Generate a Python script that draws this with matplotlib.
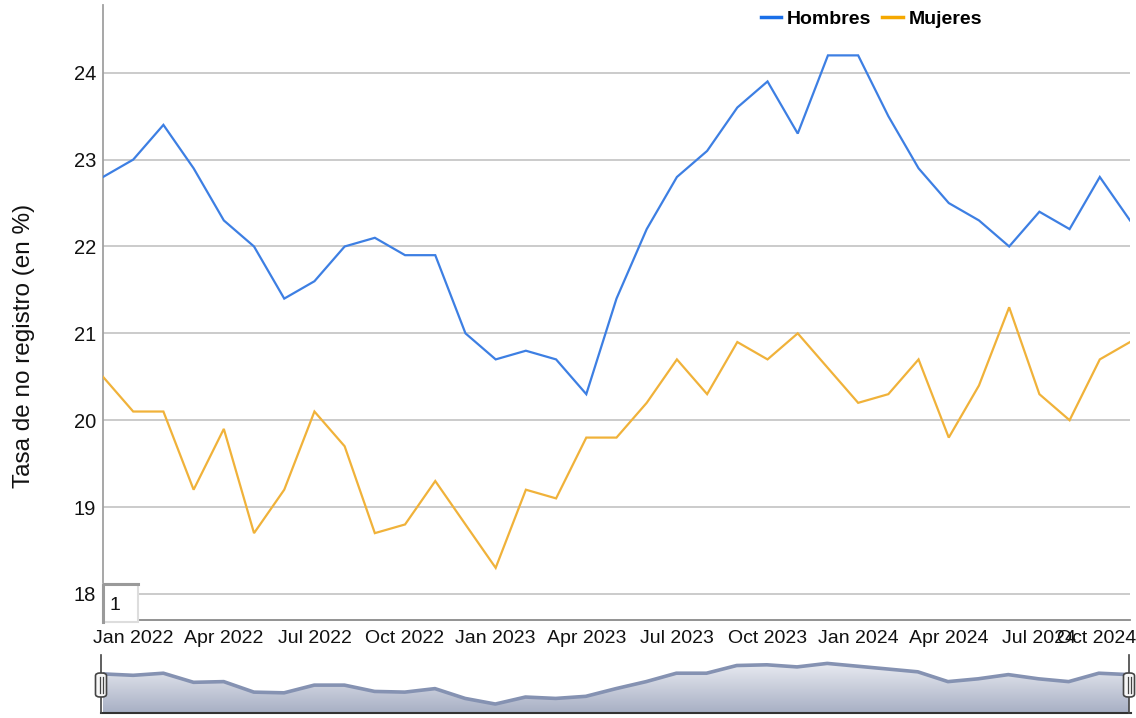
import matplotlib
matplotlib.use("Agg")
import matplotlib.pyplot as plt
import numpy as np
from matplotlib.lines import Line2D
from matplotlib.patches import Rectangle, FancyBboxPatch, Polygon
from matplotlib.colors import LinearSegmentedColormap
import matplotlib.transforms as mtransforms

plt.rcParams['font.family'] = ['Liberation Sans', 'DejaVu Sans']

# ---------------- data ----------------
months = ["Dec 2021",
          "Jan 2022", "Feb 2022", "Mar 2022", "Apr 2022", "May 2022", "Jun 2022",
          "Jul 2022", "Aug 2022", "Sep 2022", "Oct 2022", "Nov 2022", "Dec 2022",
          "Jan 2023", "Feb 2023", "Mar 2023", "Apr 2023", "May 2023", "Jun 2023",
          "Jul 2023", "Aug 2023", "Sep 2023", "Oct 2023", "Nov 2023", "Dec 2023",
          "Jan 2024", "Feb 2024", "Mar 2024", "Apr 2024", "May 2024", "Jun 2024",
          "Jul 2024", "Aug 2024", "Sep 2024", "Oct 2024"]

hombres = [22.8, 23.0, 23.4, 22.9, 22.3, 22.0, 21.4, 21.6, 22.0, 22.1, 21.9, 21.9,
           21.0, 20.7, 20.8, 20.7, 20.3, 21.4, 22.2, 22.8, 23.1, 23.6, 23.9, 23.3,
           24.2, 24.2, 23.5, 22.9, 22.5, 22.3, 22.0, 22.4, 22.2, 22.8, 22.3]

mujeres = [20.5, 20.1, 20.1, 19.2, 19.9, 18.7, 19.2, 20.1, 19.7, 18.7, 18.8, 19.3,
           18.8, 18.3, 19.2, 19.1, 19.8, 19.8, 20.2, 20.7, 20.3, 20.9, 20.7, 21.0,
           20.6, 20.2, 20.3, 20.7, 19.8, 20.4, 21.3, 20.3, 20.0, 20.7, 20.9]

# navigator series (read from the overview strip)
navigator = [21.65, 21.55, 21.7, 21.05, 21.1, 20.35, 20.3, 20.85, 20.85, 20.4, 20.35, 20.6,
             19.9, 19.5, 20.0, 19.9, 20.05, 20.6, 21.1, 21.7, 21.7, 22.25, 22.3, 22.15,
             22.4, 22.2, 22.0, 21.8, 21.1, 21.3, 21.6, 21.3, 21.1, 21.7, 21.6]

tick_labels = ["Jan 2022", "Apr 2022", "Jul 2022", "Oct 2022", "Jan 2023", "Apr 2023",
               "Jul 2023", "Oct 2023", "Jan 2024", "Apr 2024", "Jul 2024", "Oct 2024"]
yticks = [18, 19, 20, 21, 22, 23, 24]

series_names = ["Hombres", "Mujeres"]
line_colors = ["#3d7fe3", "#f0b23a"]
legend_colors = ["#1a6fe8", "#f5a800"]

# ---------------- layout ----------------
W, H = 1136, 718
fig = plt.figure(figsize=(W / 100, H / 100), dpi=100)


def fr(x0, y0, x1, y1):
    return [x0 / W, 1 - y1 / H, (x1 - x0) / W, (y1 - y0) / H]


x = np.arange(len(months))

ax = fig.add_axes(fr(103, 5, 1130, 620))
ax.plot(x, hombres, color=line_colors[0], lw=1.6, solid_joinstyle='miter', zorder=3)
ax.plot(x, mujeres, color=line_colors[1], lw=1.6, solid_joinstyle='miter', zorder=3)

ax.set_xlim(0, len(months) - 1)
ax.set_ylim(17.70, 24.78)
ax.set_yticks(yticks)
ax.set_yticklabels([str(v) for v in yticks])
tick_pos = [months.index(t) for t in tick_labels]
ax.set_xticks(tick_pos)
ax.set_xticklabels(tick_labels)
ax.tick_params(axis='both', length=0, labelsize=14, colors='#111111')
ax.tick_params(axis='x', pad=7)
ax.tick_params(axis='y', labelsize=14.5, pad=5)
ax.grid(axis='y', color='#bdbdbd', lw=1.1)
ax.grid(axis='x', visible=False)
ax.set_axisbelow(True)
for s in ['top', 'right']:
    ax.spines[s].set_visible(False)
ax.spines['left'].set_color('#a0a0a0')
ax.spines['left'].set_linewidth(1.3)
ax.spines['bottom'].set_color('#8a8a8a')
ax.spines['bottom'].set_linewidth(1.3)

# last x label pushed left so it stays in the figure
last = ax.get_xticklabels()[-1]
last.set_horizontalalignment('right')
last.set_transform(last.get_transform() + mtransforms.ScaledTranslation(6 / 100, 0, fig.dpi_scale_trans))

ax.set_ylabel("Tasa de no registro (en %)", fontsize=17.5, color='#111111')
ax.yaxis.set_label_coords(-(103 - 35) / (1130 - 103), (620 - 346) / 615)

# legend
handles = [Line2D([0], [0], color=c, lw=2.5) for c in legend_colors]
leg = fig.legend(handles, series_names, loc='center', bbox_to_anchor=(871.5 / W, 1 - 19 / H),
                 ncol=2, frameon=False, handlelength=1.05, handletextpad=0.3,
                 columnspacing=0.55, prop={'weight': 'bold', 'size': 14})

# small "1" box at bottom-left of plot area
bx0, by0, bx1, by1 = 103, 584, 138, 622
fig.add_artist(Rectangle((bx0 / W, 1 - by1 / H), (bx1 - bx0) / W, (by1 - by0) / H,
                         transform=fig.transFigure, facecolor='white', edgecolor='#dddddd', lw=1.5, zorder=5))
fig.add_artist(Line2D([bx0 / W, bx0 / W, bx1 / W], [1 - by1 / H, 1 - by0 / H, 1 - by0 / H],
                      transform=fig.transFigure, color='#9a9a9a', lw=2.2, zorder=6))
fig.text(115 / W, 1 - 605 / H, "1", fontsize=14, ha='center', va='center', color='#111111', zorder=7)

# ---------------- navigator ----------------
nav = fig.add_axes(fr(103, 655, 1129, 713))
ymin, ymax = 18.86, 23.0
verts = [(0, ymin)] + list(zip(x, navigator)) + [(len(months) - 1, ymin)]
poly = Polygon(verts, closed=True, facecolor='none', edgecolor='none')
nav.add_patch(poly)
grad = np.linspace(0, 1, 256).reshape(-1, 1)
cmap = LinearSegmentedColormap.from_list('nav', ['#f3f4f8', '#a7afc4'])
im = nav.imshow(grad, extent=[0, len(months) - 1, ymin, ymax], origin='upper', cmap=cmap,
                aspect='auto', zorder=1)
im.set_clip_path(poly)
nav.plot(x, navigator, color='#8592b2', lw=2.6, zorder=2)
nav.set_xlim(0, len(months) - 1)
nav.set_ylim(ymin, ymax)
nav.axis('off')

# navigator bottom line
fig.add_artist(Line2D([101 / W, 1131 / W], [1 - 713 / H, 1 - 713 / H], transform=fig.transFigure,
                      color='#333333', lw=1.5, zorder=5))
# handles
for hx in [101, 1129]:
    fig.add_artist(Line2D([hx / W, hx / W], [1 - 713 / H, 1 - 655 / H], transform=fig.transFigure,
                          color='#444444', lw=1.2, zorder=5))
    hw, hh = 11, 24
    fig.add_artist(FancyBboxPatch(((hx - hw / 2) / W, 1 - 697 / H), hw / W, hh / H,
                                  boxstyle='round,pad=0,rounding_size=0.004',
                                  transform=fig.transFigure, facecolor='#f7f7f7',
                                  edgecolor='#444444', lw=1.2, zorder=6))
    for dx in [-1.5, 1.5]:
        fig.add_artist(Line2D([(hx + dx) / W, (hx + dx) / W], [1 - 693 / H, 1 - 677 / H],
                              transform=fig.transFigure, color='#444444', lw=0.9, zorder=7))

fig.savefig("out.png", dpi=100)
